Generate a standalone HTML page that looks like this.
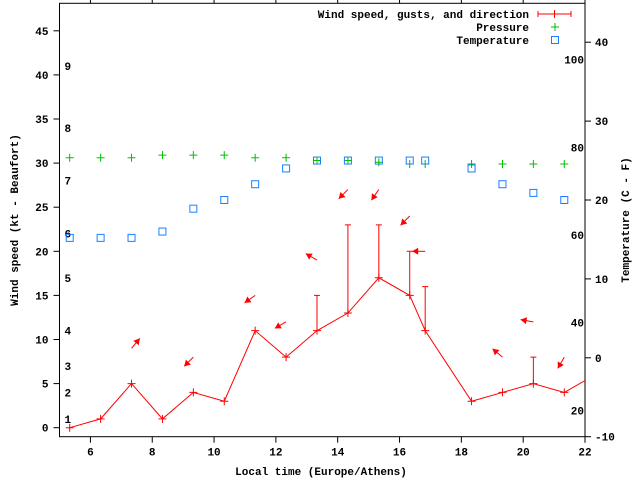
<!DOCTYPE html>
<html><head><meta charset="utf-8"><style>
html,body{margin:0;padding:0;background:#fff;}
svg{display:block;font-family:"Liberation Mono",monospace;font-weight:bold;font-size:11px;}
</style></head><body>
<svg id="chart" width="640" height="480" viewBox="0 0 640 480" xmlns="http://www.w3.org/2000/svg"></svg>
<script>
const times=[5.33,6.33,7.33,8.33,9.33,10.33,11.33,12.33,13.33,14.33,15.33,16.33,16.83,18.33,19.33,20.33,21.33,22.33];
const wind=[0,1,5,1,4,3,11,8,11,13,17,15,11,3,4,5,4,6];
const gust=[null,null,null,null,null,null,null,null,15,23,23,20,16,null,null,8,null,null];
const dirs=[null,null,50,null,225,null,215,210,150,225,235,225,180,null,140,170,240,null];
const pressure=[30.6,30.6,30.6,30.9,30.9,30.9,30.6,30.6,30.3,30.3,30.1,29.9,29.9,29.9,29.9,29.9,29.9];
const temp=[15.2,15.2,15.2,16.0,18.9,20.0,22.0,24.0,25.0,25.0,25.0,25.0,25.0,24.0,22.0,20.9,20.0];
const xTicks=[6,8,10,12,14,16,18,20,22];
const yTicks=[0,5,10,15,20,25,30,35,40,45];
const y2Ticks=[-10,0,10,20,30,40];
const fTicks=[20,40,60,80,100];
const bftLabels=[1,2,3,4,5,6,7,8,9];
const bftKt=[1,4,7,11,17,22,28,34,41];

const L=59.5,R=585,T=3.3,B=436.7;
const X=v=>L+(v-5)*(R-L)/17;
const Y=v=>427.7-v*8.82;
const Y2=c=>B-(c+10)*7.89;
const svg=document.getElementById('chart');
const NS='http://www.w3.org/2000/svg';
function mk(tag,attrs,parent){const e=document.createElementNS(NS,tag);for(const k in attrs)e.setAttribute(k,attrs[k]);(parent||svg).appendChild(e);return e;}

const defs=mk('defs',{});
const cp=mk('clipPath',{id:'clip'},defs);
mk('rect',{x:L,y:T,width:R-L,height:B-T},cp);

const frame=mk('rect',{x:L,y:T,width:R-L,height:B-T,fill:'none',stroke:'#000','stroke-width':1});



xTicks.forEach(v=>{
  const x=X(v);
  mk('line',{x1:x,y1:B,x2:x,y2:B+6,stroke:'#000'});
  mk('line',{x1:x,y1:T,x2:x,y2:T-6,stroke:'#000'});
  const t=mk('text',{x:x,y:B+19,'text-anchor':'middle'});t.textContent=v;
  
  
});
yTicks.forEach(v=>{
  const y=Y(v);
  mk('line',{x1:L-6,y1:y,x2:L,y2:y,stroke:'#000'});
  const t=mk('text',{x:L-11,y:y+4,'text-anchor':'end'});t.textContent=v;
  
  
});
y2Ticks.forEach(v=>{
  const y=Y2(v);
  mk('line',{x1:R,y1:y,x2:R+6,y2:y,stroke:'#000'});
  const t=mk('text',{x:R+10,y:y+4,'text-anchor':'start'});t.textContent=v;
  
  
});
fTicks.forEach(f=>{
  const t=mk('text',{x:R-1,y:Y2((f-32)*5/9)+4,'text-anchor':'end'});t.textContent=f;
  
  
});
bftLabels.forEach((b,i)=>{
  const t=mk('text',{x:L+5,y:Y(bftKt[i])+4});t.textContent=b;
  
  
});

let tt=mk('text',{x:321,y:475,'text-anchor':'middle'});tt.textContent='Local time (Europe/Athens)';


tt=mk('text',{x:0,y:0,'text-anchor':'middle',transform:'translate(18,220) rotate(-90)'});tt.textContent='Wind speed (kt - Beaufort)';


tt=mk('text',{x:0,y:0,'text-anchor':'middle',transform:'translate(629,220) rotate(-90)'});tt.textContent='Temperature (C - F)';



const g=mk('g',{'clip-path':'url(#clip)'});
pressure.forEach((p,i)=>{
  const x=X(times[i]),y=Y(p);
  const m=mk('path',{d:`M${x-4},${y}h8M${x},${y-4}v8`,stroke:'#00c000','stroke-width':1},g);
  
  
});
temp.forEach((c,i)=>{
  const x=X(times[i]),y=Y2(c);
  const m=mk('rect',{x:x-3.5,y:y-3.5,width:7,height:7,fill:'none',stroke:'#1a80ff','stroke-width':1},g);
  
  
});
const line=mk('polyline',{points:times.map((t,i)=>X(t)+','+Y(wind[i])).join(' '),fill:'none',stroke:'#ff0000','stroke-width':1},g);


times.forEach((t,i)=>{
  const x=X(t),y=Y(wind[i]);
  const m=mk('path',{d:`M${x-4},${y}h8M${x},${y-4}v8`,stroke:'#ff0000'},g);
  
  
  if(gust[i]!=null){
    const gy=Y(gust[i]);
    const e=mk('path',{d:`M${x},${y}V${gy}M${x-3},${gy}h6`,stroke:'#ff0000','stroke-width':1},g);
    
    
  }
  if(dirs[i]!=null){
    const top=Math.max(wind[i],gust[i]||0)+4;
    const ay=Y(top),a=dirs[i]*Math.PI/180;
    const hx=x+13*Math.cos(a),hy=ay-13*Math.sin(a);
    const ux=Math.cos(a),uy=-Math.sin(a);
    const bx=hx-6*ux,by=hy-6*uy;
    const ag=mk('g',{},g);
    
    
    mk('line',{x1:x,y1:ay,x2:hx,y2:hy,stroke:'#ff0000'},ag);
    mk('polygon',{points:`${hx},${hy} ${bx-3.5*uy},${by+3.5*ux} ${bx+3.5*uy},${by-3.5*ux}`,fill:'#ff0000'},ag);
  }
});

const lg=mk('g',{});


const rows=['Wind speed, gusts, and direction','Pressure','Temperature'];
rows.forEach((r,i)=>{
  const y=14+i*13;
  const t=mk('text',{x:529,y:y+4,'text-anchor':'end'},lg);t.textContent=r;
  
  
});
mk('path',{d:'M538,14h33M538,11v6M571,11v6M554.5,10v8',stroke:'#ff0000'},lg);
mk('path',{d:'M551,27h8M555,23v8',stroke:'#00c000'},lg);
mk('rect',{x:551.5,y:36.5,width:7,height:7,fill:'none',stroke:'#1a80ff'},lg);
</script>
</body></html>
